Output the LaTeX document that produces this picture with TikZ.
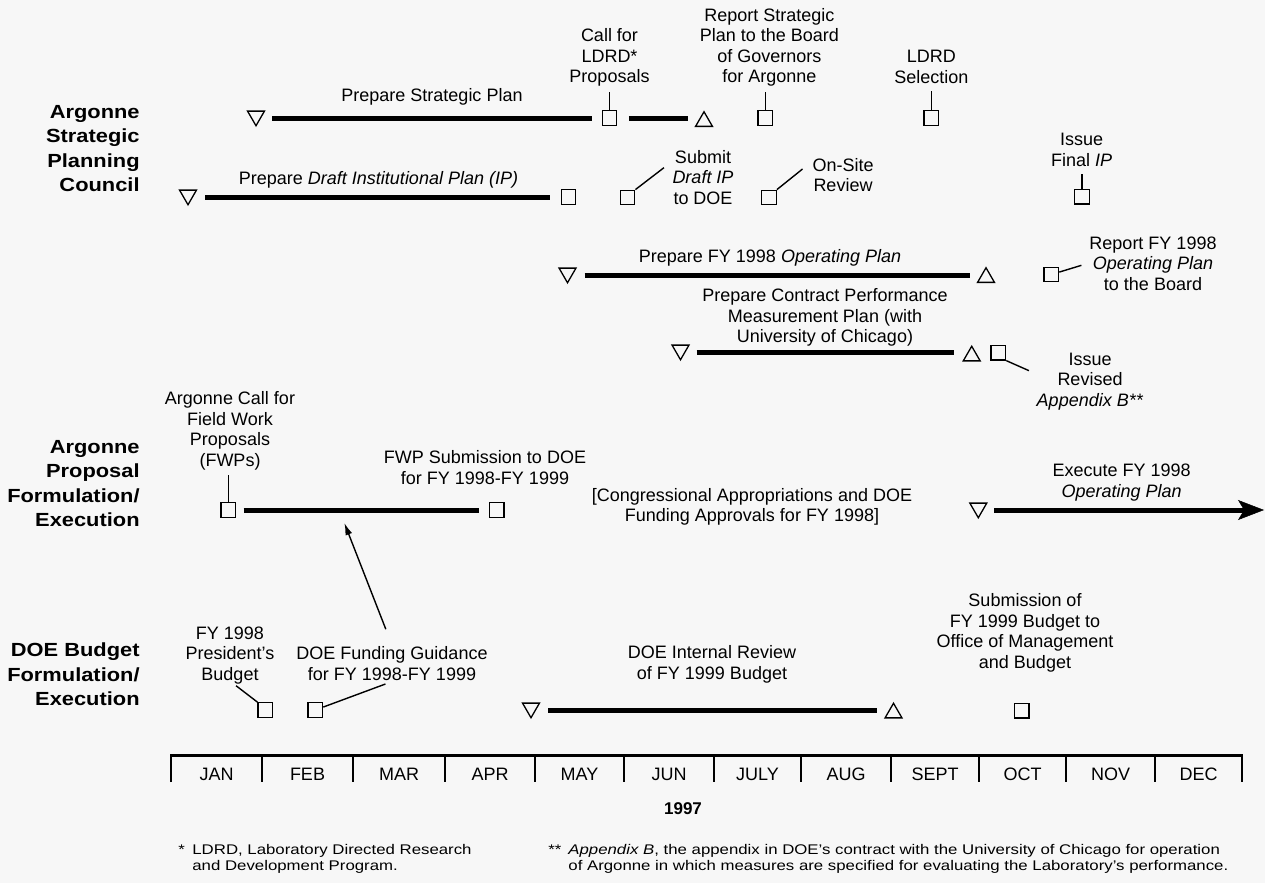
\documentclass[tikz,border=0pt]{standalone}
\usepackage{fontspec}
\setmainfont{Liberation Sans}
\newfontfamily\headfont{Liberation Sans}[FakeStretch=1.15]
\newfontfamily\notefont{Liberation Sans}[FakeStretch=1.2]
\usetikzlibrary{shapes.geometric,arrows.meta}
\definecolor{paper}{HTML}{F7F7F7}

\begin{document}
\begin{tikzpicture}[x=1pt, y=-1pt, thick,
	txt/.style={align=center, inner sep=1pt, anchor=base, font=\fontsize{18}{20.5}\selectfont},
	head/.style={align=right, inner sep=0pt, anchor=base east, font=\fontsize{19}{24.5}\selectfont\headfont\bfseries},
	note/.style={align=left, inner sep=0pt, anchor=base west, font=\fontsize{14}{16}\selectfont\notefont},
	startmark/.style={regular polygon, regular polygon sides=3, shape border rotate=180, draw=black, line width=1.3pt, minimum size=19.5pt, inner sep=0pt},
	endmark/.style={regular polygon, regular polygon sides=3, draw=black, line width=1.3pt, minimum size=19.5pt, inner sep=0pt},
	milestone/.style={rectangle, draw=black, line width=1.3pt, minimum size=14.5pt, inner sep=0pt},
	bar/.style={line width=5pt},
	callout/.style={line width=1.4pt},
	axis/.style={line width=2.5pt}]

	\path[fill=paper, use as bounding box] (0,0) rectangle (1265,883);

	% row headers (placed at the last line)
	\node (hspc) [head] at (140,191.7) {Argonne\\Strategic\\Planning\\Council};
	\node (happf) [head] at (140,526.7) {Argonne\\Proposal\\Formulation/\\Execution};
	\node (hdoe) [head] at (140,705.7) {DOE Budget\\Formulation/\\Execution};

	% strategic plan
	\node (psS) [startmark] at (256,116) {};
	\node (cfl) [milestone] at (609.5,118) {};
	\node (psE) [endmark] at (704,121.5) {};
	\node (rsp) [milestone] at (765.3,118) {};
	\node (sel) [milestone] at (931.3,118) {};
	\node (lps) [txt] at (432,101.7) {Prepare Strategic Plan};
	\node (lcfl) [txt] at (609.5,82.7) {Call for\\LDRD*\\Proposals};
	\node (lrsp) [txt] at (769.3,82.7) {Report Strategic\\Plan to the Board\\of Governors\\for Argonne};
	\node (lsel) [txt] at (931.3,83.3) {LDRD\\Selection};
	\draw[bar, shorten >=9.5pt] ([xshift=16pt,yshift=-2pt]psS.center) -- (cfl);
	\draw[bar, shorten <=11.5pt] (cfl) -- ([xshift=-16pt,yshift=3.5pt]psE.center);
	\draw[callout, shorten >=4pt] (cfl.north) -- (cfl.north |- lcfl.south);
	\draw[callout, shorten >=4pt] (rsp.north) -- (rsp.north |- lrsp.south);
	\draw[callout, shorten >=6pt] (sel.north) -- (sel.north |- lsel.south);

	% institutional plan
	\node (dipS) [startmark] at (188,195) {};
	\node (dipE) [milestone] at (568.5,197) {};
	\node (sub) [milestone] at (627.5,197.5) {};
	\node (osr) [milestone] at (769,197.5) {};
	\node (fip) [milestone] at (1082,196.7) {};
	\node (ldip) [txt] at (378.5,184) {Prepare \textit{Draft Institutional Plan (IP)}};
	\node (lsub) [txt] at (703,204) {Submit\\\textit{Draft IP}\\to DOE};
	\node (losr) [txt] at (843,191.7) {On-Site\\Review};
	\node (lfip) [txt] at (1081.7,166) {Issue\\Final \textit{IP}};
	\draw[bar, shorten >=10.5pt] ([xshift=17pt,yshift=-2pt]dipS.center) -- (dipE);
	\draw[callout, shorten >=9pt] (sub.north east) -- (lsub.155);
	\draw[callout, shorten >=11pt] (osr.north east) -- (losr.158);
	\draw[callout, shorten >=6pt] (fip.north) -- (fip.north |- lfip.south);

	% operating plan
	\node (opS) [startmark] at (567.5,273) {};
	\node (opE) [endmark] at (986,277.5) {};
	\node (rop) [milestone] at (1051.3,274.5) {};
	\node (lop) [txt] at (770,262) {Prepare FY 1998 \textit{Operating Plan}};
	\node (lrop) [txt] at (1153,290) {Report FY 1998\\\textit{Operating Plan}\\to the Board};
	\draw[bar] ([xshift=17pt,yshift=-2pt]opS.center) -- ([xshift=-16.5pt,yshift=2.5pt]opE.center);
	\draw[callout, shorten >=7pt] (rop) -- (lrop.west);

	% performance measurement plan
	\node (cpS) [startmark] at (680.5,350) {};
	\node (cpE) [endmark] at (971.7,356) {};
	\node (rab) [milestone] at (998.3,352.7) {};
	\node (lcp) [txt] at (825,342.7) {Prepare Contract Performance\\Measurement Plan (with\\University of Chicago)};
	\node (lrab) [txt] at (1090,406) {Issue\\Revised\\\textit{Appendix B**}};
	\draw[bar] ([xshift=16pt,yshift=-2pt]cpS.center) -- ([xshift=-17.5pt,yshift=4pt]cpE.center);
	\draw[callout, shorten >=7pt] (rab.south east) -- (lrab.172);

	% proposals and execution
	\node (cfw) [milestone] at (228.3,510) {};
	\node (fws) [milestone] at (496.7,510) {};
	\node (exS) [startmark] at (978.3,508) {};
	\coordinate (exEnd) at (1264,510);
	\coordinate (fwbar) at (339.3,510);
	\node (lcfw) [txt] at (230,466) {Argonne Call for\\Field Work\\Proposals\\(FWPs)};
	\node (lfws) [txt] at (485,484.3) {FWP Submission to DOE\\for FY 1998-FY 1999};
	\node (lcong) [txt] at (752,521.7) {[Congressional Appropriations and DOE\\Funding Approvals for FY 1998]};
	\node (lex) [txt] at (1121.7,497.3) {Execute FY 1998\\\textit{Operating Plan}};
	\draw[bar, shorten <=7.5pt, shorten >=9.5pt] (cfw) -- (fws);
	\draw[bar, -{Stealth[length=26pt,width=20pt,inset=6pt,line width=0.5pt]}] ([xshift=16pt,yshift=-2pt]exS.center) -- (exEnd);
	\draw[callout, shorten >=4pt] (cfw.north) -- (cfw.north |- lcfw.south);

	% DOE budget
	\node (pb) [milestone] at (265.3,710) {};
	\node (fg) [milestone] at (315.3,710) {};
	\node (irS) [startmark] at (531,708) {};
	\node (irE) [endmark] at (893.5,713) {};
	\node (omb) [milestone] at (1021.7,710.8) {};
	\node (lpb) [txt] at (230,680) {FY 1998\\President’s\\Budget};
	\node (lfg) [txt] at (392,680) {DOE Funding Guidance\\for FY 1998-FY 1999};
	\node (lir) [txt] at (712,679.3) {DOE Internal Review\\of FY 1999 Budget};
	\node (lomb) [txt] at (1025,668.3) {Submission of\\FY 1999 Budget to\\Office of Management\\and Budget};
	\draw[bar] ([xshift=17pt,yshift=-2pt]irS.center) -- ([xshift=-16.5pt,yshift=3pt]irE.center);
	\draw[callout, shorten >=1pt] (pb.north west) -- (lpb.-80);
	\draw[callout, shorten >=7pt] (fg) -- (lfg.south);
	\draw[callout, shorten <=17pt, shorten >=14pt, -{Latex[length=12pt,width=7pt]}] (lfg.north) -- (fwbar);

	% month scale
	\draw[axis] (171,782) -- (171,755.5) -- (1242,755.5) -- (1242,782);
	\foreach \t in {262,353,445,535,624,714,801,891,979,1066,1155}
		\draw[axis] (\t,755.5) -- (\t,782);
	\foreach \m/\a/\b in {JAN/171/262, FEB/262/353, MAR/353/445, APR/445/535, MAY/535/624, JUN/624/714,
		JULY/714/801, AUG/801/891, SEPT/891/979, OCT/979/1066, NOV/1066/1155, DEC/1155/1242}
		\node (m\m) [txt] at ({(\a+\b)/2},780) {\m};
	\node (yr) [txt, font=\fontsize{17}{20}\selectfont\bfseries] at (683,814) {1997};

	% footnotes
	\node (fn1m) [note] at (178,854) {*};
	\node (fn1) [note] at (192,870) {LDRD, Laboratory Directed Research\\and Development Program.};
	\node (fn2m) [note] at (548,854) {**};
	\node (fn2) [note] at (568,870) {\textit{Appendix B}, the appendix in DOE’s contract with the University of Chicago for operation\\of Argonne in which measures are specified for evaluating the Laboratory’s performance.};

\end{tikzpicture}
\end{document}
